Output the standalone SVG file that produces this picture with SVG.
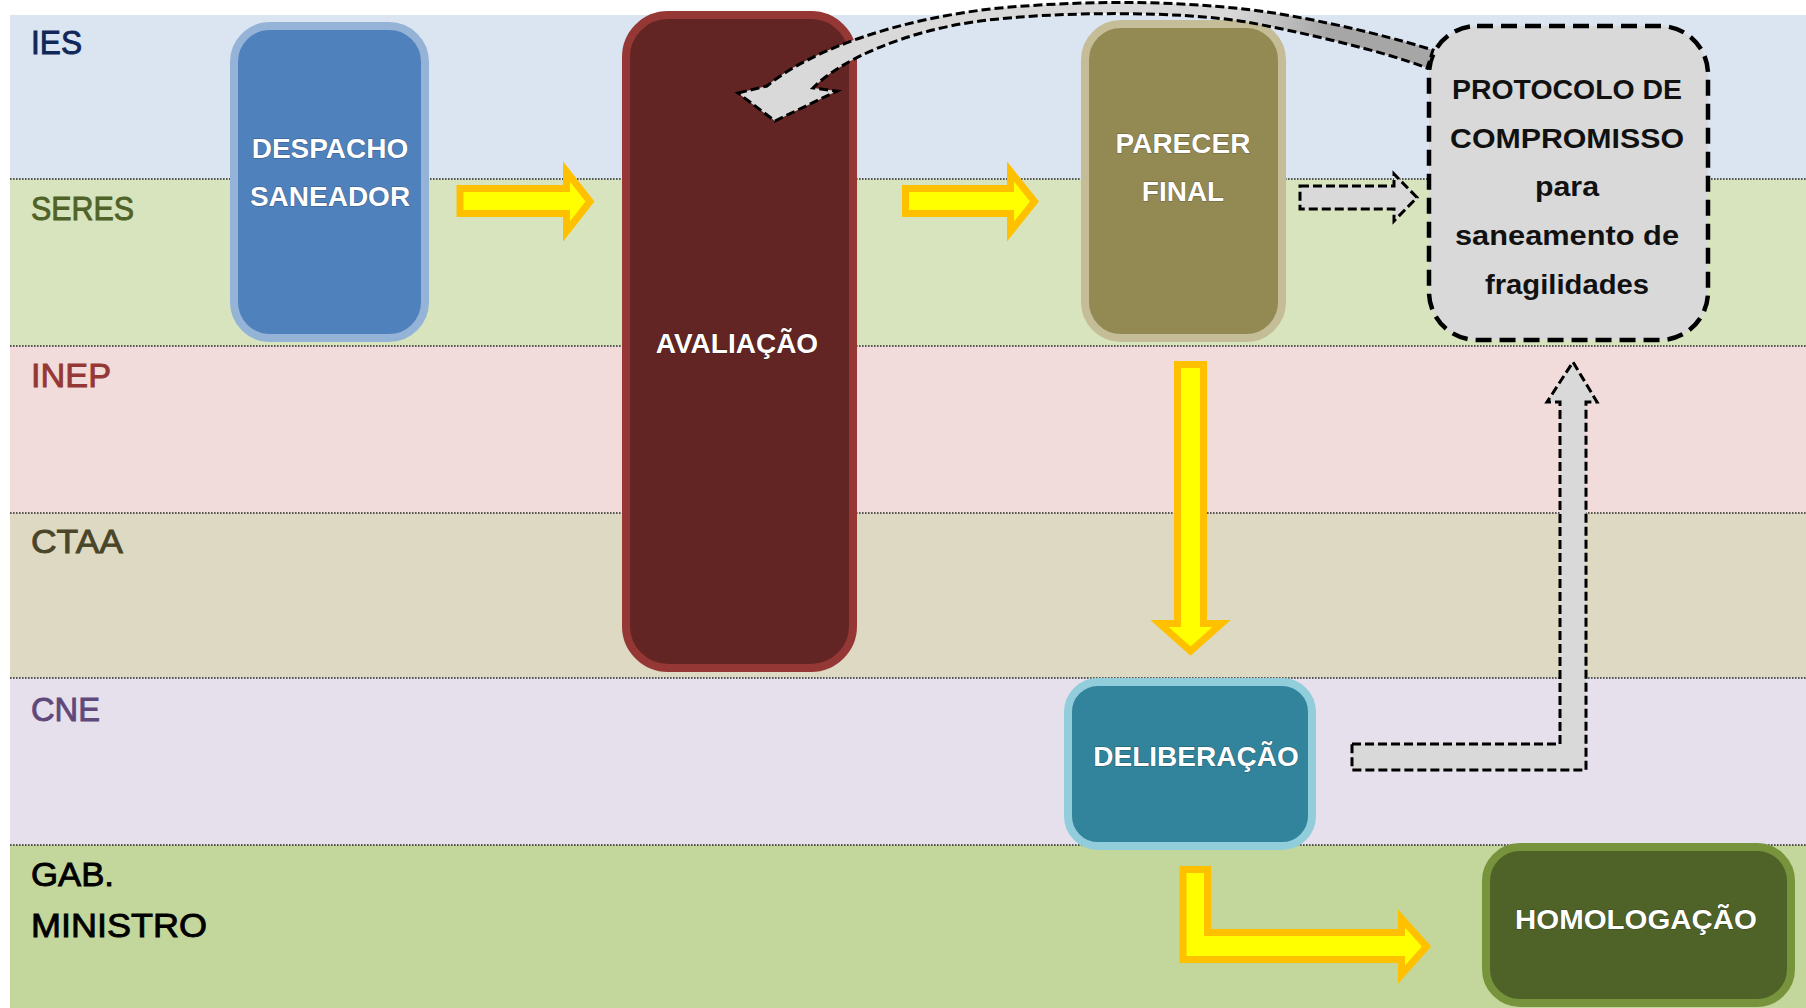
<svg xmlns="http://www.w3.org/2000/svg" width="1806" height="1008" viewBox="0 0 1806 1008">
  <defs>
    <style>
      .lane-label { font-family: "Liberation Sans", Arial, sans-serif; font-size: 34px; stroke-width: 0.9; }
      .sep { stroke: #2a2a2a; stroke-width: 1.6; stroke-dasharray: 1.6 1.4; fill: none; }
      .box { stroke-width: 8; }
      .wlabel { font-family: "Liberation Sans", Arial, sans-serif; font-weight: bold; font-size: 28px; fill: #ffffff; text-anchor: middle; stroke: rgba(0,0,0,0.35); stroke-width: 1; paint-order: stroke; }
      .plabel { font-family: "Liberation Sans", Arial, sans-serif; font-weight: bold; font-size: 27px; fill: #111111; text-anchor: middle; }
      .yarrow { fill: #FFFF00; stroke: #FFC000; stroke-width: 7; stroke-linejoin: miter; stroke-miterlimit: 10; }
      .garrow { fill: #D9D9D9; stroke: #000000; stroke-width: 3; stroke-dasharray: 9 4; stroke-linejoin: miter; }
    </style>
    <linearGradient id="curveFill" gradientUnits="userSpaceOnUse" x1="1230" y1="0" x2="1330" y2="0">
      <stop offset="0" stop-color="#D9D9D9"/>
      <stop offset="1" stop-color="#A6A6A6"/>
    </linearGradient>
  </defs>

  <rect x="0" y="0" width="1806" height="1008" fill="#ffffff"/>

  <g id="lanes">
    <rect x="10" y="15" width="1796" height="164" fill="#DBE5F1"/>
    <rect x="10" y="179" width="1796" height="167" fill="#D7E4BD"/>
    <rect x="10" y="346" width="1796" height="167" fill="#F2DCDB"/>
    <rect x="10" y="513" width="1796" height="165" fill="#DDD9C3"/>
    <rect x="10" y="678" width="1796" height="167" fill="#E5E0EC"/>
    <rect x="10" y="845" width="1796" height="163" fill="#C3D69B"/>
    <line class="sep" x1="10" y1="179" x2="1806" y2="179"/>
    <line class="sep" x1="10" y1="346" x2="1806" y2="346"/>
    <line class="sep" x1="10" y1="513" x2="1806" y2="513"/>
    <line class="sep" x1="10" y1="678" x2="1806" y2="678"/>
    <line class="sep" x1="10" y1="845" x2="1806" y2="845"/>
    <text class="lane-label" x="31" y="54" fill="#10275A" stroke="#10275A" textLength="51" lengthAdjust="spacingAndGlyphs">IES</text>
    <text class="lane-label" x="31" y="220" fill="#4F6228" stroke="#4F6228" textLength="103" lengthAdjust="spacingAndGlyphs">SERES</text>
    <text class="lane-label" x="31" y="387" fill="#953735" stroke="#953735" textLength="80" lengthAdjust="spacingAndGlyphs">INEP</text>
    <text class="lane-label" x="31" y="553" fill="#4A4529" stroke="#4A4529" textLength="92" lengthAdjust="spacingAndGlyphs">CTAA</text>
    <text class="lane-label" x="31" y="721" fill="#5F497A" stroke="#5F497A" textLength="69" lengthAdjust="spacingAndGlyphs">CNE</text>
    <text class="lane-label" x="31" y="886" fill="#000000" stroke="#000000" textLength="83" lengthAdjust="spacingAndGlyphs">GAB.</text>
    <text class="lane-label" x="31" y="937" fill="#000000" stroke="#000000" textLength="176" lengthAdjust="spacingAndGlyphs">MINISTRO</text>
  </g>

  <g id="node-despacho">
    <rect class="box" x="234" y="26" width="191" height="312" rx="36" fill="#4F81BD" stroke="#95B3D7"/>
    <text class="wlabel" x="330" y="158">DESPACHO</text>
    <text class="wlabel" x="330" y="206">SANEADOR</text>
  </g>

  <g id="node-avaliacao">
    <rect class="box" x="626" y="15" width="227" height="653" rx="42" fill="#632523" stroke="#953735"/>
    <text class="wlabel" x="737" y="353">AVALIAÇÃO</text>
  </g>

  <g id="node-parecer">
    <rect class="box" x="1085" y="24" width="197" height="314" rx="36" fill="#938953" stroke="#C4BD97"/>
    <text class="wlabel" x="1183" y="153">PARECER</text>
    <text class="wlabel" x="1183" y="201">FINAL</text>
  </g>

  <g id="node-protocolo">
    <rect x="1429" y="26" width="279" height="314" rx="48" fill="#D9D9D9" stroke="#000000" stroke-width="4.5" stroke-dasharray="16 8"/>
    <text class="plabel" x="1567" y="99" textLength="230" lengthAdjust="spacingAndGlyphs">PROTOCOLO DE</text>
    <text class="plabel" x="1567" y="148" textLength="234" lengthAdjust="spacingAndGlyphs">COMPROMISSO</text>
    <text class="plabel" x="1567" y="196" textLength="64" lengthAdjust="spacingAndGlyphs">para</text>
    <text class="plabel" x="1567" y="245" textLength="224" lengthAdjust="spacingAndGlyphs">saneamento de</text>
    <text class="plabel" x="1567" y="294" textLength="164" lengthAdjust="spacingAndGlyphs">fragilidades</text>
  </g>

  <g id="node-deliberacao">
    <rect class="box" x="1068" y="682" width="244" height="164" rx="30" fill="#31849B" stroke="#92CDDC"/>
    <text class="wlabel" x="1196" y="766">DELIBERAÇÃO</text>
  </g>

  <g id="node-homologacao">
    <rect class="box" x="1486" y="847" width="305" height="156" rx="34" fill="#4F6228" stroke="#77933C"/>
    <text class="wlabel" x="1636" y="929" textLength="242" lengthAdjust="spacingAndGlyphs">HOMOLOGAÇÃO</text>
  </g>

  <g id="connectors">
    <polygon class="yarrow" points="460,188.5 566.5,188.5 566.5,171.5 590,201.5 566.5,231.5 566.5,213.5 460,213.5"/>
    <polygon class="yarrow" points="905.5,188.5 1010.5,188.5 1010.5,171.5 1034.5,201.5 1010.5,231.5 1010.5,213.5 905.5,213.5"/>
    <polygon class="yarrow" points="1177.5,364.5 1203.5,364.5 1203.5,623.5 1221.5,623.5 1190.5,651 1159.5,623.5 1177.5,623.5"/>
    <polygon class="yarrow" points="1183,869.5 1207.5,869.5 1207.5,932.5 1401.5,932.5 1401.5,918.5 1426.5,946.5 1401.5,974.5 1401.5,959.5 1183,959.5"/>
    <polygon class="garrow" points="1300,186 1394,186 1394,174 1417,197.5 1394,221 1394,209 1300,209"/>
    <polygon class="garrow" points="1352,744 1560,744 1560,402 1547,402 1573,362 1597,402 1586,402 1586,770 1352,770"/>
    <path class="garrow" style="fill:url(#curveFill)" d="M 738,93 L 767,86 C 810,50 900,18 1000,8 C 1100,-1 1200,1 1280,14 C 1350,26 1400,40 1433,50 L 1427,68 C 1380,50 1300,32 1247,22 C 1180,11 1060,11 980,21 C 905,31 840,60 813,88 L 837,91 L 775,121 Z"/>
  </g>
</svg>
